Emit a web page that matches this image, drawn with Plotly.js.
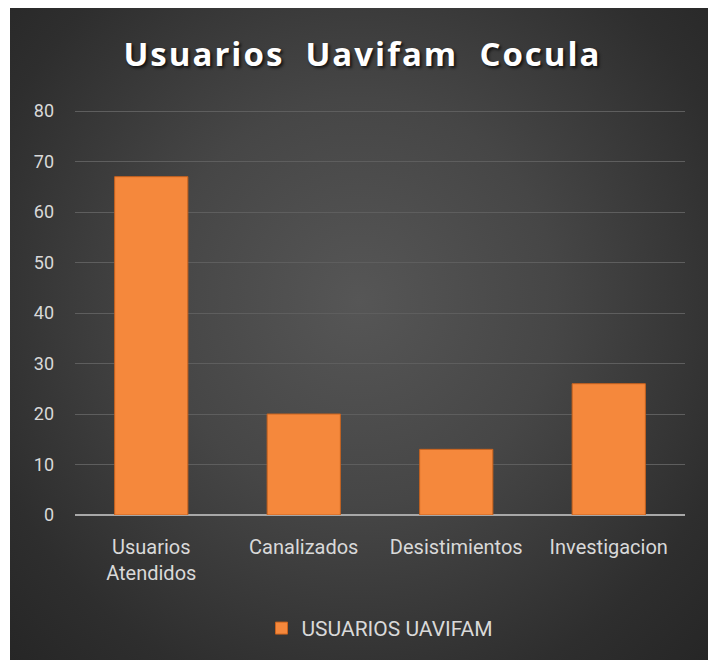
<!DOCTYPE html>
<html>
<head>
<meta charset="utf-8">
<script src="https://cdn.plot.ly/plotly-3.0.1.min.js"></script>
<style>
  html, body { margin: 0; padding: 0; background: #ffffff; }
  #wrap {
    position: absolute; left: 10px; top: 8px; width: 698px; height: 652px;
    background: radial-gradient(ellipse at 50% 45%, #565656 0%, #464646 40%, #2e2e2e 80%, #262626 100%);
  }
  #chart { width: 698px; height: 652px; }
  .gtitle { text-shadow: 2px 2px 3px rgba(0,0,0,0.7); letter-spacing: 2px; }
</style>
</head>
<body>
<div id="wrap"><div id="chart"></div></div>
<script>
const categories = ["Usuarios<br>Atendidos", "Canalizados", "Desistimientos", "Investigacion"];
const values = [67, 20, 13, 26];
const seriesName = "USUARIOS UAVIFAM";
const titleText = "Usuarios\u00a0\u00a0Uavifam\u00a0\u00a0Cocula";
const yTicks = [0, 10, 20, 30, 40, 50, 60, 70, 80];

const trace = {
  type: "bar",
  x: categories,
  y: values,
  name: seriesName,
  showlegend: true,
  marker: { color: "#f5883c", line: { color: "#c8621e", width: 1 } },
  hoverinfo: "x+y"
};

const layout = {
  width: 698, height: 652,
  paper_bgcolor: "rgba(0,0,0,0)",
  plot_bgcolor: "rgba(0,0,0,0)",
  margin: { l: 65, r: 23, t: 102, b: 144 },
  bargap: 0.52,
  title: {
    text: "<b>" + titleText + "</b>",
    font: { family: "Open Sans, DejaVu Sans, sans-serif", size: 33, color: "#ffffff" },
    x: 0.505, xanchor: "center",
    y: 0.928, yanchor: "middle", yref: "container"
  },
  xaxis: {
    tickfont: { family: "Roboto, sans-serif", size: 20, color: "#d9d9d9" },
    showgrid: false, showline: false, ticks: "", zeroline: false,
    ticklabelstandoff: 18
  },
  yaxis: {
    range: [0, 80.2], tickvals: yTicks,
    tickfont: { family: "Roboto, sans-serif", size: 18, color: "#d9d9d9" },
    gridcolor: "#5e5e5e", gridwidth: 1,
    zeroline: true, zerolinecolor: "#a8a8a8", zerolinewidth: 2,
    showline: false, ticks: "", ticklen: 0,
    ticklabelstandoff: 20
  },
  legend: {
    orientation: "h", x: 0.5, xanchor: "center", y: -0.277, yanchor: "middle",
    font: { family: "Roboto, sans-serif", size: 21, color: "#d9d9d9" },
    bgcolor: "rgba(0,0,0,0)", itemwidth: 30
  }
};

Plotly.newPlot("chart", [trace], layout, { displayModeBar: false, responsive: false });
</script>
</body>
</html>
